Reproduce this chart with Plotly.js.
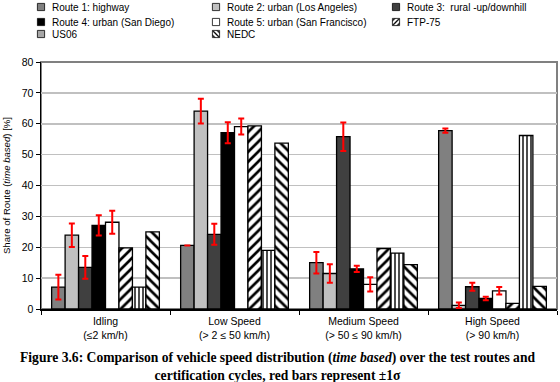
<!DOCTYPE html>
<html>
<head>
<meta charset="utf-8">
<script src="https://cdn.plot.ly/plotly-3.0.1.min.js"></script>
<style>
html,body{margin:0;padding:0;background:#fff;}
#chart{width:560px;height:382px;}
#chart g.legendpoints{transform:translate(17px,0px) scale(0.6);}
</style>
</head>
<body>
<div id="chart"></div>
<script>
const categories = ["Idling<br>(≤2 km/h)", "Low Speed<br>(> 2 ≤ 50 km/h)", "Medium Speed<br>(> 50 ≤ 90 km/h)", "High Speed<br>(> 90 km/h)"];
const seriesNames = ["Route 1: highway", "Route 2: urban (Los Angeles)", "Route 3:  rural -up/downhill",
  "Route 4: urban (San Diego)", "Route 5: urban (San Francisco)", "FTP-75", "US06", "NEDC"];
const route1 = [7.1, 20.6, 15.0, 57.8];
const route2 = [23.9, 64.1, 11.5, 1.2];
const route3 = [13.5, 24.2, 55.8, 7.2];
const route4 = [27.1, 57.1, 13.0, 3.4];
const route5 = [28.1, 59.1, 8.0, 5.9];
const ftp75 = [19.8, 59.3, 19.6, 1.8];
const us06 = [7.1, 19.0, 18.1, 56.2];
const nedc = [25.0, 53.7, 14.4, 7.3];
const route1Err = [4.0, 0, 3.5, 0.7];
const route2Err = [3.8, 4.0, 3.0, 0.9];
const route3Err = [3.7, 3.4, 4.6, 1.3];
const route4Err = [3.3, 3.4, 1.0, 0.6];
const route5Err = [3.7, 2.6, 2.3, 1.2];

const values = [route1, route2, route3, route4, route5, ftp75, us06, nedc];
const errs = [route1Err, route2Err, route3Err, route4Err, route5Err, null, null, null];
const fills = ["#808080", "#c0c0c0", "#404040", "#000000", "#ffffff", "#ffffff", "#ffffff", "#ffffff"];
const patterns = [null, null, null, null, null,
  {shape: "/", fgcolor: "#000", bgcolor: "#fff", size: 7, solidity: 0.38},
  {shape: "|", fgcolor: "#000", bgcolor: "#fff", size: 4, solidity: 0.35},
  {shape: "\\", fgcolor: "#000", bgcolor: "#fff", size: 7, solidity: 0.38}];

// legend grid: text start x (px) per column, row centre y (px)
const legendColX = [51, 226, 406];
const legendRowY = [7, 22, 34];

const legendIds = values.map((v, i) => i === 0 ? "legend" : "legend" + (i + 1));

const traces = values.map((v, i) => {
  const t = {
    type: "bar", name: seriesNames[i], x: categories, y: v, legend: legendIds[i],
    marker: {color: fills[i], line: {color: "#000", width: 1.3}},
    hoverinfo: "skip"
  };
  if (patterns[i]) t.marker.pattern = patterns[i];
  if (errs[i]) {
    t.error_y = {type: "data", array: errs[i], visible: true, color: "#ff0000", thickness: 2, width: 3};
  }
  return t;
});

const layout = {
  width: 560, height: 382,
  margin: {l: 41, r: 3, t: 62, b: 73},
  paper_bgcolor: "#fff", plot_bgcolor: "#fff",
  font: {family: "Liberation Sans, Arial, sans-serif", size: 11, color: "#000"},
  barmode: "group", bargap: 0.165, bargroupgap: 0,
  showlegend: true,
  xaxis: {type: "category", showline: true, linecolor: "#000", linewidth: 1.5,
    ticks: "outside", tickson: "boundaries", ticklen: 4, tickcolor: "#000",
    tickfont: {size: 10.5}, showgrid: false, zeroline: false, ticklabelstandoff: 2},
  yaxis: {range: [0, 80], dtick: 10, showline: true, linecolor: "#000", linewidth: 1.5,
    ticks: "outside", ticklen: 4, tickcolor: "#000", showgrid: true, gridcolor: "#c0c0c0",
    gridwidth: 1.5, zeroline: false, tickfont: {size: 10.5},
    title: {text: "Share of Route (<i>time based</i>) [%]", font: {size: 9.6}, standoff: 9}},
  shapes: [{type: "rect", xref: "paper", yref: "paper", x0: 0, x1: 1, y0: 0, y1: 1,
    line: {color: "#808080", width: 2}, layer: "below"}],
  annotations: [{xref: "paper", yref: "paper", x: 0.458, y: (309 - 348) / 247, xanchor: "center", yanchor: "top",
    showarrow: false, align: "center",
    font: {family: "Liberation Serif, Times New Roman, serif", size: 13.6, color: "#000"},
    text: "<b>Figure 3.6: Comparison of vehicle speed distribution (<i>time based</i>) over the test routes and<br>certification cycles, red bars represent ±1σ</b>"}]
};

legendIds.forEach((id, i) => {
  const col = i % 3, row = Math.floor(i / 3);
  layout[id] = {orientation: "h", xref: "container", yref: "container",
    x: (legendColX[col] - 39) / 560, xanchor: "left",
    y: 1 - legendRowY[row] / 382, yanchor: "middle",
    font: {size: 10}, itemwidth: 30, bgcolor: "rgba(0,0,0,0)", borderwidth: 0};
});

Plotly.newPlot("chart", traces, layout, {displayModeBar: false, staticPlot: true});
</script>
</body>
</html>
